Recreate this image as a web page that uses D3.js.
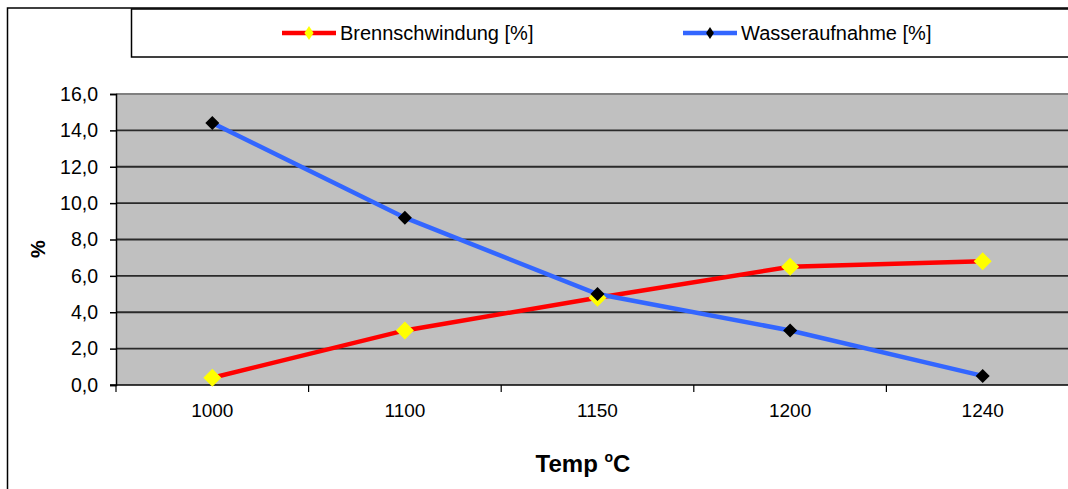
<!DOCTYPE html>
<html><head><meta charset="utf-8">
<script src="https://cdnjs.cloudflare.com/ajax/libs/d3/7.8.5/d3.min.js"></script>
<style>body{margin:0;background:#fff}svg{display:block}</style>
</head><body>
<svg id="c" width="1068" height="489"></svg>
<script>
const categories = ["1000","1100","1150","1200","1240"];
const brennschwindung = [0.4, 3.0, 4.8, 6.5, 6.8];
const wasseraufnahme = [14.4, 9.2, 5.0, 3.0, 0.5];
const yTicks = [0,2,4,6,8,10,12,14,16];
const seriesNames = ["Brennschwindung [%]","Wasseraufnahme [%]"];

const svg = d3.select("#c");
const font = "'Liberation Sans', Arial, sans-serif";
const L = 116, T = 94, B = 385, R = 1079;

// outer border
svg.append("rect").attr("x",7.5).attr("y",8).attr("width",1100).attr("height",600)
  .attr("fill","#fff").attr("stroke","#000").attr("stroke-width",1.5);

const x = d3.scaleBand().domain(categories).range([L, R]);
const y = d3.scaleLinear().domain([0,16]).range([B, T]);

// plot area
svg.append("rect").attr("x",L).attr("y",T).attr("width",R-L).attr("height",B-T).attr("fill","#c0c0c0");
svg.append("line").attr("x1",L).attr("x2",R).attr("y1",T).attr("y2",T).attr("stroke","#808080").attr("stroke-width",2);
// gridlines
svg.append("g").selectAll("line").data(yTicks.filter(d=>d>0 && d<16)).join("line")
  .attr("x1",L).attr("x2",R).attr("y1",d=>y(d)).attr("y2",d=>y(d))
  .attr("stroke","#2a2a2a").attr("stroke-width",1.8);

// y axis
const yAxis = d3.axisLeft(y).tickValues(yTicks).tickSize(6).tickPadding(12)
  .tickFormat(d=>d3.format(".1f")(d).replace(".",","));
const gy = svg.append("g").attr("transform",`translate(${L},0)`).call(yAxis);
gy.select(".domain").attr("stroke","#000").attr("stroke-width",1.5);
gy.selectAll(".tick line").attr("stroke","#000").attr("stroke-width",1.5);
gy.selectAll("text").attr("font-family",font).attr("font-size",19.5).attr("fill","#000");

// x axis
const xAxis = d3.axisBottom(x).tickSize(0).tickPadding(19);
const gx = svg.append("g").attr("transform",`translate(0,${B})`).call(xAxis);
gx.select(".domain").remove();
gx.selectAll("text").attr("font-family",font).attr("font-size",19).attr("fill","#000");
svg.append("line").attr("x1",L-6).attr("x2",R).attr("y1",B).attr("y2",B).attr("stroke","#000").attr("stroke-width",1.5);
const bounds = categories.map(c=>x(c)).concat([x(categories[categories.length-1])+x.bandwidth()]);
svg.append("g").selectAll("line").data(bounds).join("line")
  .attr("x1",d=>d).attr("x2",d=>d).attr("y1",B).attr("y2",B+7).attr("stroke","#000").attr("stroke-width",1.2);

const cx = d => x(d) + x.bandwidth()/2;
const line = d3.line().x((d,i)=>cx(categories[i])).y(d=>y(d));

svg.append("path").datum(brennschwindung).attr("d",line).attr("fill","none").attr("stroke","#ff0000").attr("stroke-width",4.5);
svg.append("path").datum(wasseraufnahme).attr("d",line).attr("fill","none").attr("stroke","#3366ff").attr("stroke-width",4.5);

function diamond(s){ return `M0,${-s}L${s},0L0,${s}L${-s},0Z`; }
svg.append("g").selectAll("path").data(brennschwindung).join("path")
  .attr("d",diamond(9)).attr("transform",(d,i)=>`translate(${cx(categories[i])},${y(d)})`).attr("fill","#ffff00");
svg.append("g").selectAll("path").data(wasseraufnahme).join("path")
  .attr("d",diamond(7)).attr("transform",(d,i)=>`translate(${cx(categories[i])},${y(d)})`).attr("fill","#000");

// axis titles
svg.append("text").attr("transform","translate(45,249) rotate(-90)").attr("text-anchor","middle")
  .attr("font-family",font).attr("font-weight","bold").attr("font-size",20).text("%");
const xt = svg.append("text").attr("x",583).attr("y",472).attr("text-anchor","middle")
  .attr("font-family",font).attr("font-weight","bold").attr("font-size",24);
xt.append("tspan").text("Temp ");
xt.append("tspan").attr("font-size",14).attr("dy",-10).text("o");
xt.append("tspan").attr("dy",10).text("C");

// legend
svg.append("rect").attr("x",131.5).attr("y",9).attr("width",1000).attr("height",48)
  .attr("fill","#fff").attr("stroke","#000").attr("stroke-width",1.5);
const leg = [{x:282, c:"#ff0000", m:"#ffff00", s:7, name:seriesNames[0]},{x:683, c:"#3366ff", m:"#000", s:6, name:seriesNames[1]}];
const lg = svg.append("g").selectAll("g").data(leg).join("g").attr("transform",d=>`translate(${d.x},33)`);
lg.append("line").attr("x1",0).attr("x2",54).attr("stroke",d=>d.c).attr("stroke-width",4.5);
lg.append("path").attr("d",d=>`M27,${-d.s}L${27+d.s*0.65},0L27,${d.s}L${27-d.s*0.65},0Z`).attr("fill",d=>d.m);
lg.append("text").attr("x",58).attr("y",7).attr("font-family",font).attr("font-size",20).text(d=>d.name);
</script>
</body></html>
